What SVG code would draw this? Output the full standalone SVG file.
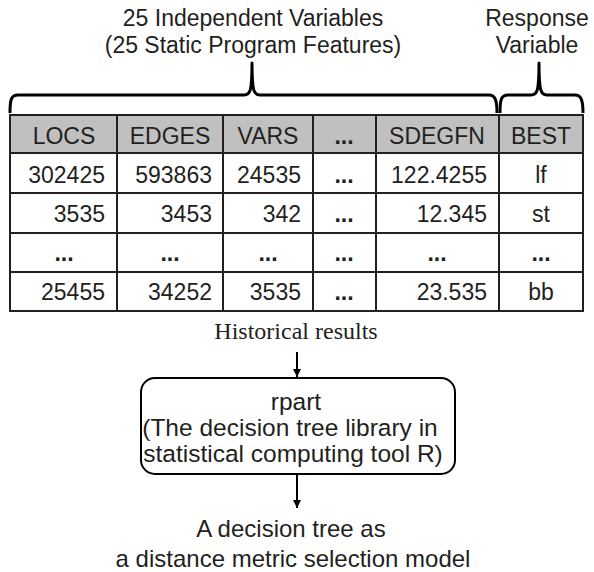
<svg xmlns="http://www.w3.org/2000/svg" width="594" height="572" viewBox="0 0 594 572">
<style>
text{font-family:"Liberation Sans",Arial,sans-serif;fill:#231f20}
.t{font-size:23px}
.c{font-size:23px;text-anchor:middle}
.r{font-size:23px;text-anchor:end}
.d{font-size:23px;text-anchor:middle;font-weight:bold}
.g{stroke:#231f20;stroke-width:2;fill:none}
.br{stroke:#000;stroke-width:3;fill:none;stroke-linejoin:round}
.serif{font-family:"Liberation Serif","Times New Roman",serif;font-size:24px;text-anchor:middle}
.b{font-size:24.5px;text-anchor:middle}
.o{font-size:24px;text-anchor:middle}
</style>
<defs>
<marker id="ah" viewBox="0 0 10 10" refX="10" refY="5" markerWidth="8" markerHeight="8" markerUnits="userSpaceOnUse" orient="auto">
<path d="M0,0 L10,5 L0,10 z" fill="#000"/>
</marker>
</defs>
<g id="labels">
<text class="c" x="253" y="26">25 Independent Variables</text>
<text class="c" x="253" y="53">(25 Static Program Features)</text>
<text class="c" x="537" y="26">Response</text>
<text class="c" x="537" y="53">Variable</text>
</g>
<g id="braces">
<path class="br" d="M10,113 C10,100 11,95 18,95 L244,95 C250,95 252,92 252,63 C252,92 254,95 260,95 L489,95 C495,95 497,100 497,113"/>
<path class="br" d="M500,113 C500,100 501,95 508,95 L531,95 C537,95 539,92 539,63 C539,92 541,95 547,95 L575,95 C581,95 583,100 583,113"/>
</g>
<g id="table">
<rect x="10" y="115" width="573" height="38" fill="#c0c0c0"/>
<rect class="g" x="10" y="115" width="573" height="196"/>
<path class="g" d="M10,153H583M10,193H583M10,233H583M10,272H583M117,115V311M223,115V311M313,115V311M376,115V311M499,115V311"/>
<text class="c" x="64" y="144">LOCS</text>
<text class="c" x="170" y="144">EDGES</text>
<text class="c" x="268" y="144">VARS</text>
<text class="d" x="344" y="144">...</text>
<text class="c" x="437" y="144">SDEGFN</text>
<text class="c" x="541" y="144">BEST</text>
<text class="r" x="105" y="183">302425</text>
<text class="r" x="212" y="183">593863</text>
<text class="r" x="301" y="183">24535</text>
<text class="d" x="344" y="183">...</text>
<text class="r" x="487" y="183">122.4255</text>
<text class="c" x="541" y="183">lf</text>
<text class="r" x="105" y="222">3535</text>
<text class="r" x="212" y="222">3453</text>
<text class="r" x="301" y="222">342</text>
<text class="d" x="344" y="222">...</text>
<text class="r" x="487" y="222">12.345</text>
<text class="c" x="541" y="222">st</text>
<text class="d" x="64" y="261">...</text>
<text class="d" x="170" y="261">...</text>
<text class="d" x="268" y="261">...</text>
<text class="d" x="344" y="261">...</text>
<text class="d" x="437" y="261">...</text>
<text class="d" x="541" y="261">...</text>
<text class="r" x="105" y="300">25455</text>
<text class="r" x="212" y="300">34252</text>
<text class="r" x="301" y="300">3535</text>
<text class="d" x="344" y="300">...</text>
<text class="r" x="487" y="300">23.535</text>
<text class="c" x="541" y="300">bb</text>
</g>
<g id="historical">
<text class="serif" x="296" y="339">Historical results</text>
</g>
<g id="rpart">
<rect x="141" y="378" width="314" height="96" rx="14" fill="#fff" stroke="#000" stroke-width="2"/>
<text class="b" x="296" y="410">rpart</text>
<text class="b" x="290" y="436">(The decision tree library in</text>
<text class="b" x="293" y="462">statistical computing tool R)</text>
</g>
<g id="output">
<text class="o" x="291" y="537">A decision tree as</text>
<text class="o" x="293" y="567">a distance metric selection model</text>
</g>
<g id="connectors" stroke="#000" stroke-width="2">
<line x1="297" y1="352" x2="297" y2="377" marker-end="url(#ah)"/>
<line x1="297" y1="475" x2="297" y2="508" marker-end="url(#ah)"/>
</g>
</svg>
